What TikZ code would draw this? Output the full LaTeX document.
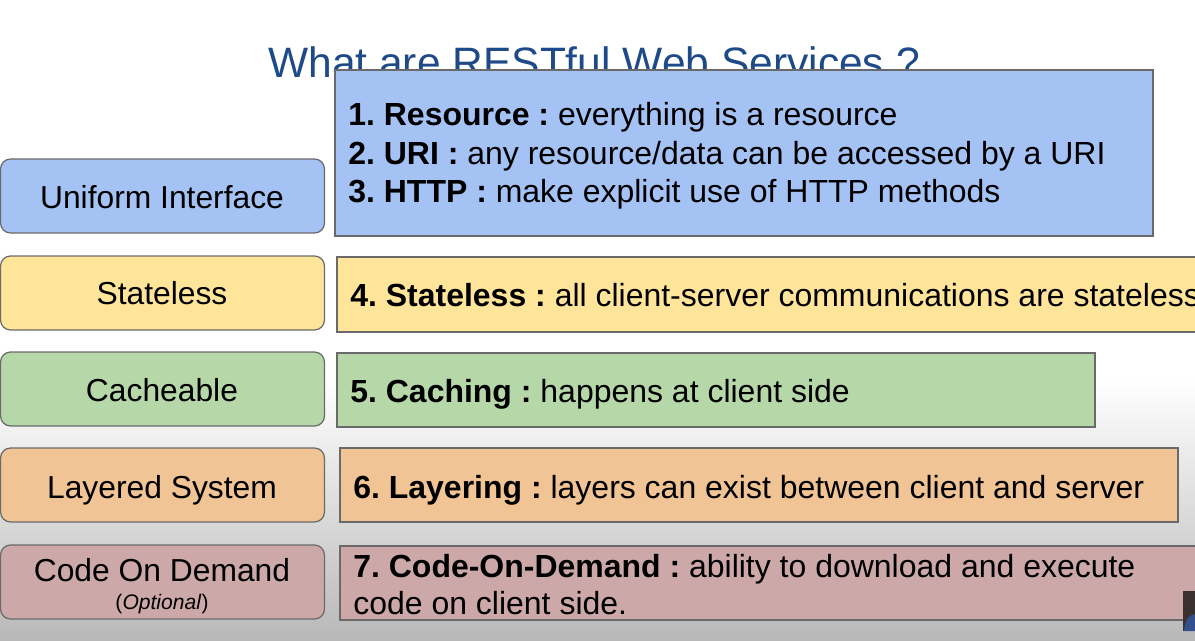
\documentclass[tikz,border=0pt]{standalone}
\usepackage{fontspec}
\setmainfont{Liberation Sans}
\frenchspacing
\definecolor{titleblue}{HTML}{1F4A8A}
\definecolor{boxline}{HTML}{6A6A6A}
\definecolor{cblue}{HTML}{A4C2F4}
\definecolor{cyellow}{HTML}{FFE599}
\definecolor{cgreen}{HTML}{B6D7A8}
\definecolor{corange}{HTML}{F0C494}
\definecolor{cpink}{HTML}{CCA8A8}
\definecolor{bgbottom}{HTML}{B8B8B8}
\definecolor{camdark}{HTML}{3A3030}
\definecolor{camblue}{HTML}{34508A}
\begin{document}
\begin{tikzpicture}[x=0.02cm,y=-0.02cm,
  frame/.style={draw=boxline, line width=0.7pt, inner sep=0pt},
  lbox/.style={frame, rounded corners=0.2cm, minimum width=6.48cm, minimum height=1.48cm},
  rbox/.style={frame, minimum height=1.48cm},
  txt/.style={inner sep=0pt, anchor=base west, font=\fontsize{18.2}{22}\selectfont},
  lbl/.style={inner sep=0pt, anchor=base, font=\fontsize{18.1}{22}\selectfont}]
  \clip (0,0) rectangle (1195,641);
  % page background: white, fading to grey at the bottom
  \fill[white] (0,0) rectangle (1195,381);
  \shade[top color=white, bottom color=bgbottom] (0,380) rectangle (1195,641);

  % title (partly hidden behind the first box)
  \node[inner sep=0pt, anchor=base, text=titleblue, font=\fontsize{24.2}{28}\selectfont]
    (title) at (594,78) {What are RESTful Web Services ?};

  % left column: the constraints
  \node[lbox, fill=cblue]   (uni)   at (162.5,196) {};
  \node[lbox, fill=cyellow] (stl)   at (162.5,293) {};
  \node[lbox, fill=cgreen]  (cach)  at (162.5,389) {};
  \node[lbox, fill=corange] (lay)   at (162.5,485) {};
  \node[lbox, fill=cpink]   (code)  at (162.5,582) {};

  \node[lbl] (uniT)  at (162,209) {Uniform Interface};
  \node[lbl] (stlT)  at (162,305) {Stateless};
  \node[lbl] (cachT) at (162,401) {Cacheable};
  \node[lbl] (layT)  at (162,498) {Layered System};
  \node[lbl] (codeT) at (162,581) {Code On Demand};
  \node[inner sep=0pt, anchor=base, font=\fontsize{12}{14}\selectfont]
    (optT) at (162,609) {(\textit{Optional})};

  % right column: explanations
  \node[frame, fill=cblue, minimum width=16.36cm, minimum height=3.32cm] (d1) at (744,153) {};
  \node[rbox, fill=cyellow, minimum width=17.56cm, minimum height=1.5cm] (d4) at (776,294.5) {};
  \node[rbox, fill=cgreen,  minimum width=15.16cm] (d5) at (716,390) {};
  \node[rbox, fill=corange, minimum width=16.76cm] (d6) at (759,485) {};
  \node[rbox, fill=cpink,   minimum width=17.5cm]  (d7) at (777.5,583) {};

  \node[txt] (l1) at (348,126) {\textbf{1. Resource :} everything is a resource};
  \node[txt] (l2) at (348,165) {\textbf{2. URI :} any resource/data can be accessed by a URI};
  \node[txt] (l3) at (348,203) {\textbf{3. HTTP :} make explicit use of HTTP methods};
  \node[txt] (l4) at (350,307) {\textbf{4. Stateless :} all client-server communications are stateless};
  \node[txt] (l5) at (350,402) {\textbf{5. Caching :} happens at client side};
  \node[txt] (l6) at (353,498) {\textbf{6. Layering :} layers can exist between client and server};
  \node[txt] (l7) at (353,577) {\textbf{7. Code-On-Demand :} ability to download and execute};
  \node[txt] (l8) at (353,614) {code on client side.};

  % small inset in the lower right corner
  \fill[camdark] (1183,591) rectangle (1195,631);
  \fill[camblue] (1184,631) .. controls (1185,618) and (1190,615) .. (1195,614) -- (1195,631) -- cycle;
\end{tikzpicture}
\end{document}
